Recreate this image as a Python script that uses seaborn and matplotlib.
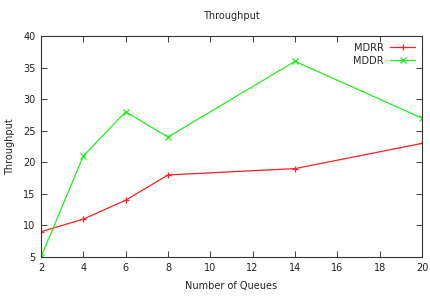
import matplotlib
matplotlib.use("Agg")
import matplotlib.pyplot as plt
import seaborn as sns
import pandas as pd

queues = [2, 4, 6, 8, 14, 20]
mdrr = [9, 11, 14, 18, 19, 23]
mddr = [5, 21, 28, 24, 36, 27]
x_ticks = [2, 4, 6, 8, 10, 12, 14, 16, 18, 20]
y_ticks = [5, 10, 15, 20, 25, 30, 35, 40]

sns.set_theme(style="white")
plt.rcParams['font.family'] = ['DejaVu Sans']

fig = plt.figure(figsize=(4.31, 2.98), dpi=100)
ax = fig.add_axes([0.0951, 0.1376, 0.8839, 0.7414])

series = [("MDRR", mdrr, "#ff2020", "+"), ("MDDR", mddr, "#22ee22", "x")]
for name, vals, col, mk in series:
    df = pd.DataFrame({"queues": queues, "throughput": vals})
    sns.lineplot(data=df, x="queues", y="throughput", color=col, marker=mk,
                 markeredgecolor=col, markerfacecolor=col, markersize=5,
                 markeredgewidth=0.9, linewidth=0.9, label=name, ax=ax)

ax.set_xlim(2, 20)
ax.set_ylim(5, 40)
ax.set_xticks(x_ticks)
ax.set_yticks(y_ticks)
ax.tick_params(axis='both', direction='in', length=4, width=0.6, labelsize=7,
               top=True, right=True, bottom=True, left=True, colors='#222222',
               pad=4)
for s in ax.spines.values():
    s.set_color('#333333')
    s.set_linewidth(0.8)

ax.set_xlabel("Number of Queues", fontsize=7, labelpad=6)
ax.set_ylabel("Throughput", fontsize=7, labelpad=6)
ax.set_title("Throughput", fontsize=7, pad=12)

leg = ax.legend(loc='upper right', frameon=False, fontsize=7, markerfirst=False,
                handlelength=2.6, borderaxespad=0.3, labelspacing=0.3,
                handletextpad=0.6)

fig.savefig("out.png", dpi=100)
